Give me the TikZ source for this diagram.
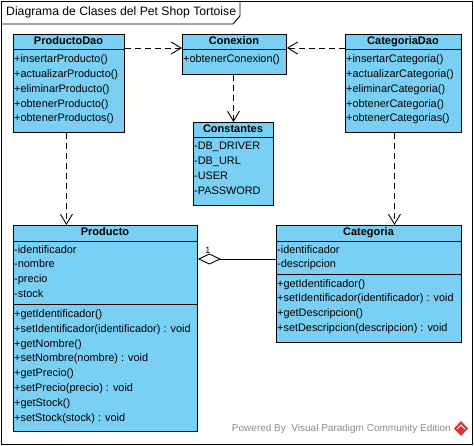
\documentclass[tikz,border=0pt]{standalone}
\usepackage{fontspec}
\setmainfont{Liberation Sans}
\usepackage{xcolor}
\usetikzlibrary{arrows.meta}

\definecolor{vpblue}{RGB}{122,207,245}
\definecolor{vpgray}{RGB}{140,140,140}
\definecolor{vpred}{RGB}{220,50,50}

\tikzset{
	classbox/.style={draw, fill=vpblue, line width=0.9pt, inner sep=0pt, anchor=north west},
	classname/.style={inner sep=0pt, text height=8pt, text depth=2.5pt, font=\fontsize{11}{12}\selectfont\bfseries},
	member/.style={anchor=west, inner sep=1pt, text height=8pt, text depth=2.5pt, font=\fontsize{10.9}{12}\selectfont},
	dep/.style={line width=0.9pt, dash pattern=on 6pt off 4pt, -{Straight Barb[length=10pt,width=12pt,line width=0.9pt]}}
}

\begin{document}
\begin{tikzpicture}[x=1pt,y=-1pt]
	\useasboundingbox (0,0) rectangle (474,445);
	
	% marco del diagrama
	\draw[line width=0.9pt] (1,1) rectangle (472,444);
	\draw[line width=0.9pt] (1,24) -- (233,24) -- (240,16) -- (240,1);
	\node[anchor=west, inner sep=0pt, font=\fontsize{12.2}{14}\selectfont] (titulo) at (6,12.5) {Diagrama de Clases del Pet Shop Tortoise};
	
	% ProductoDao
	\node[classbox, minimum width=111pt, minimum height=98pt] (pdao) at (13,34) {};
	\draw[line width=0.9pt] (13,49) -- (124,49);
	\node[classname] (pdaonombre) at (68.5,41.5) {ProductoDao};
	\foreach \m [count=\i] in {insertarProducto(), actualizarProducto(), eliminarProducto(), obtenerProducto(), obtenerProductos()}{
		\node[member] (pdao\i) at (13,45.2+\i*14.8) {+\m};
	}
	
	% Conexion
	\node[classbox, minimum width=104pt, minimum height=40pt] (conexion) at (182,34) {};
	\draw[line width=0.9pt] (182,49) -- (286,49);
	\node[classname] (conexionnombre) at (234,41.5) {Conexion};
	\node[member] (conexion1) at (182,60) {+obtenerConexion()};
	
	% CategoriaDao
	\node[classbox, minimum width=116pt, minimum height=98pt] (cdao) at (345,34) {};
	\draw[line width=0.9pt] (345,49) -- (461,49);
	\node[classname] (cdaonombre) at (403,41.5) {CategoriaDao};
	\foreach \m [count=\i] in {insertarCategoria(), actualizarCategoria(), eliminarCategoria(), obtenerCategoria(), obtenerCategorias()}{
		\node[member] (cdao\i) at (345,45.2+\i*14.8) {+\m};
	}
	
	% Constantes
	\node[classbox, minimum width=80pt, minimum height=83pt] (constantes) at (193,122) {};
	\draw[line width=0.9pt] (193,137) -- (273,137);
	\node[classname] (constantesnombre) at (233,129.5) {Constantes};
	\foreach \m [count=\i] in {DB\_DRIVER, DB\_URL, USER, PASSWORD}{
		\node[member] (constantes\i) at (193,132.4+\i*14.8) {-\m};
	}
	
	% Producto
	\node[classbox, minimum width=184pt, minimum height=206pt] (producto) at (13,225) {};
	\draw[line width=0.9pt] (13,241) -- (197,241);
	\draw[line width=0.9pt] (13,304) -- (197,304);
	\node[classname] (productonombre) at (105,233) {Producto};
	\foreach \m [count=\i] in {identificador, nombre, precio, stock}{
		\node[member] (productoa\i) at (13,235.5+\i*14.8) {-\m};
	}
	\foreach \m [count=\i] in {getIdentificador(), setIdentificador(identificador) : void, getNombre(), setNombre(nombre) : void, getPrecio(), setPrecio(precio) : void, getStock(), setStock(stock) : void}{
		\node[member] (productom\i) at (13,300+\i*14.8) {+\m};
	}
	
	% Categoria
	\node[classbox, minimum width=185pt, minimum height=117pt] (categoria) at (276,225) {};
	\draw[line width=0.9pt] (276,241) -- (461,241);
	\draw[line width=0.9pt] (276,274) -- (461,274);
	\node[classname] (categorianombre) at (368.5,233) {Categoria};
	\foreach \m [count=\i] in {identificador, descripcion}{
		\node[member] (categoriaa\i) at (276,235.5+\i*14.8) {-\m};
	}
	\foreach \m [count=\i] in {getIdentificador(), setIdentificador(identificador) : void, getDescripcion(), setDescripcion(descripcion) : void}{
		\node[member] (categoriam\i) at (276,269.5+\i*14.8) {+\m};
	}
	
	% dependencias
	\draw[dep] ([yshift=-14pt]pdao.north east) -- ([yshift=-14pt]conexion.north west);
	\draw[dep] ([yshift=-14pt]cdao.north west) -- ([yshift=-14pt]conexion.north east);
	\draw[dep] (constantes.north |- conexion.south) -- (constantes.north);
	\draw[dep] ([xshift=-2.5pt]pdao.south) -- ([xshift=-2.5pt]pdao.south |- producto.north);
	\draw[dep] ([xshift=-9pt]cdao.south) -- ([xshift=-9pt]cdao.south |- categoria.north);
	
	% agregacion
	\draw[line width=0.9pt, -{Diamond[open, fill=white, length=23pt, width=11pt, line width=0.9pt]}] ([yshift=-34pt]categoria.north west) -- ([yshift=-34pt]producto.north east);
	\node[inner sep=0pt, font=\fontsize{9}{10}\selectfont] (mult) at (208,250) {1};
	
	% marca de agua
	\node[anchor=east, inner sep=0pt, text=vpgray, font=\fontsize{10}{12}\selectfont] (marca) at (451,429) {Powered By\ \ Visual Paradigm Community Edition};
	\fill[vpred] (461,421) -- (468,428.5) -- (461,436) -- (454,428.5) -- cycle;
	\draw[white, line width=1pt] (457,429) -- (461,425) -- (465,429);
\end{tikzpicture}
\end{document}
